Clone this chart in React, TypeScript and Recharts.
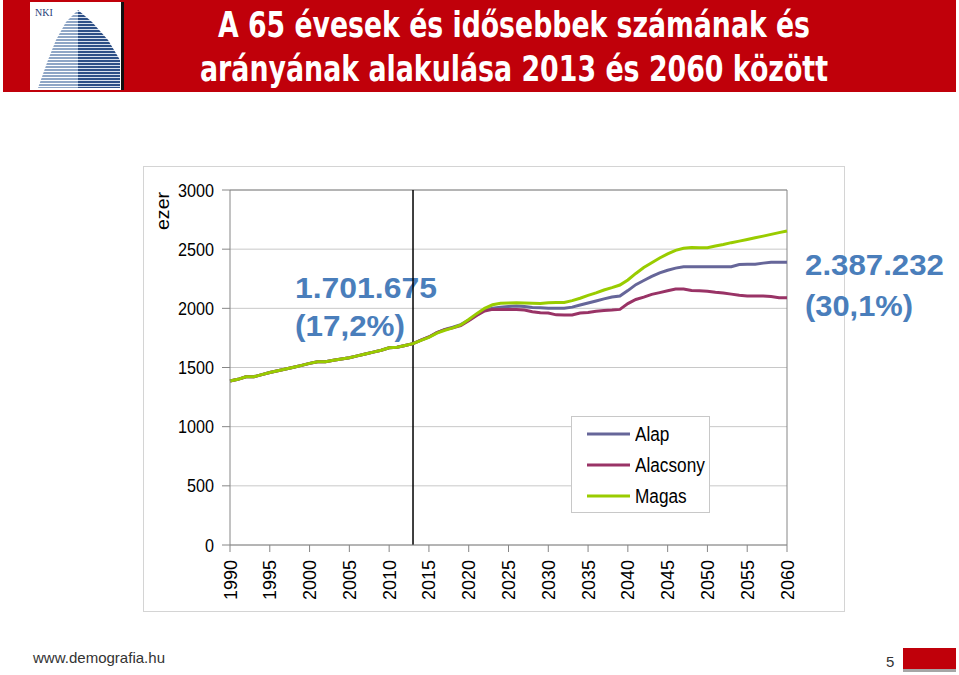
import React from 'react';
import { LineChart, Line, XAxis, YAxis, CartesianGrid, ReferenceLine, Legend } from 'recharts';

const years = [
  1990, 1991, 1992, 1993, 1994, 1995, 1996, 1997, 1998, 1999,
  2000, 2001, 2002, 2003, 2004, 2005, 2006, 2007, 2008, 2009,
  2010, 2011, 2012, 2013, 2014, 2015, 2016, 2017, 2018, 2019,
  2020, 2021, 2022, 2023, 2024, 2025, 2026, 2027, 2028, 2029,
  2030, 2031, 2032, 2033, 2034, 2035, 2036, 2037, 2038, 2039,
  2040, 2041, 2042, 2043, 2044, 2045, 2046, 2047, 2048, 2049,
  2050, 2051, 2052, 2053, 2054, 2055, 2056, 2057, 2058, 2059, 2060,
];

// 1990-2013 observed (same for every variant)
const historical = [
  1386, 1400, 1422, 1422, 1440, 1458, 1472, 1487, 1502, 1518,
  1535, 1549, 1549, 1562, 1572, 1583, 1598, 1614, 1630, 1646,
  1666, 1671, 1686, 1702,
];

// 2014-2060 projections
const alap = [
  1732, 1758, 1795, 1822, 1840, 1862,
  1900, 1945, 1985, 2000, 2010, 2015, 2020, 2015, 2008, 2005,
  2000, 2000, 2000, 2010, 2028, 2045, 2062, 2080, 2095, 2104,
  2150, 2200, 2235, 2270, 2300, 2322, 2340, 2352, 2352, 2352,
  2352, 2352, 2352, 2352, 2370, 2372, 2372, 2382, 2390, 2390, 2390,
];
const alacsony = [
  1732, 1758, 1795, 1820, 1835, 1855,
  1895, 1940, 1978, 1991, 1991, 1991, 1991, 1985, 1972, 1963,
  1960, 1945, 1944, 1944, 1960, 1965, 1975, 1982, 1985, 1991,
  2040, 2075, 2095, 2118, 2133, 2148, 2163, 2163, 2150, 2148,
  2145, 2135, 2130, 2120, 2110, 2104, 2104, 2104, 2100, 2090, 2090,
];
const magas = [
  1730, 1755, 1790, 1815, 1835, 1860,
  1905, 1955, 2000, 2030, 2042, 2045, 2048, 2045, 2042, 2040,
  2048, 2050, 2050, 2065, 2085, 2110, 2130, 2155, 2175, 2197,
  2240, 2295, 2345, 2385, 2425, 2460, 2490, 2508, 2515, 2513,
  2513, 2527, 2540, 2555, 2568, 2582, 2596, 2610, 2625, 2640, 2654,
];

const seriesNames = ['Alap', 'Alacsony', 'Magas'];
const seriesColors = ['#666699', '#993366', '#99CC00'];

const xTicks = [1990, 1995, 2000, 2005, 2010, 2015, 2020, 2025, 2030, 2035, 2040, 2045, 2050, 2055, 2060];
const yTicks = [0, 500, 1000, 1500, 2000, 2500, 3000];

const titleLines = ['A 65 évesek és idősebbek számának és', 'arányának alakulása 2013 és 2060 között'];
const startLabel = ['1.701.675', '(17,2%)'];
const endLabel = ['2.387.232', '(30,1%)'];

const nh = historical.length;
const data = years.map((year, i) => ({
  year,
  Alap: i < nh ? historical[i] : alap[i - nh],
  Alacsony: i < nh ? historical[i] : alacsony[i - nh],
  Magas: i < nh ? historical[i] : magas[i - nh],
}));

const COND = '"DejaVu Sans Condensed", "Liberation Sans", Arial, sans-serif';
const SANS = '"Liberation Sans", Arial, sans-serif';

const YTick = (props: any) => {
  const { x, y, payload } = props;
  const s = String(payload.value);
  return (
    <text x={x} y={y} textAnchor="end" dominantBaseline="central" fontFamily={SANS} fontSize={19} fill="#000"
      textLength={s.length * 9} lengthAdjust="spacingAndGlyphs">
      {s}
    </text>
  );
};

const XTick = (props: any) => {
  const { x, y, payload } = props;
  const s = String(payload.value);
  return (
    <text
      x={x}
      y={y}
      transform={`rotate(-90 ${x} ${y})`}
      textAnchor="end"
      dominantBaseline="central"
      fontFamily={SANS}
      fontSize={19}
      fill="#000"
      textLength={s.length * 10}
      lengthAdjust="spacingAndGlyphs"
    >
      {s}
    </text>
  );
};

const LegendBox = (props: any) => {
  const payload = [...(props.payload || [])].sort(
    (a: any, b: any) => seriesNames.indexOf(a.value) - seriesNames.indexOf(b.value)
  );
  return (
    <div
      style={{
        width: 139,
        height: 97,
        border: '1px solid #c8c8c8',
        background: '#fff',
        boxSizing: 'border-box',
        paddingTop: 1,
      }}
    >
      {payload.map((p: any) => (
        <div key={p.value} style={{ display: 'flex', alignItems: 'center', height: 31 }}>
          <svg width={63} height={10} style={{ display: 'block', flex: 'none' }}>
            <line x1={15} y1={5} x2={58} y2={5} stroke={p.color} strokeWidth={3} />
          </svg>
          <span
            style={{
              fontFamily: SANS,
              fontSize: 20,
              color: '#000',
              lineHeight: '20px',
              display: 'inline-block',
              transform: 'scaleX(0.86)',
              transformOrigin: 'left center',
              whiteSpace: 'nowrap',
            }}
          >
            {p.value}
          </span>
        </div>
      ))}
    </div>
  );
};

export default function App() {
  return (
    <div style={{ position: 'absolute', left: 0, top: 0, width: 959, height: 675, background: '#fff', overflow: 'hidden' }}>
      {/* chart frame */}
      <div
        style={{
          position: 'absolute',
          left: 143,
          top: 166,
          width: 702,
          height: 446,
          border: '1px solid #d4d4d4',
          boxSizing: 'border-box',
        }}
      />
      <svg width={959} height={675} style={{ position: 'absolute', left: 0, top: 0 }}>
        <defs>
          <pattern id="stripesL" width="4" height="3" patternUnits="userSpaceOnUse">
            <rect width="4" height="3" fill="#ffffff" />
            <rect width="4" height="2" fill="#8fa6c6" />
          </pattern>
          <pattern id="stripesR" width="4" height="3" patternUnits="userSpaceOnUse">
            <rect width="4" height="3" fill="#d8e0ec" />
            <rect width="4" height="2" fill="#2d4f86" />
          </pattern>
        </defs>
        {/* header banner */}
        <rect x={3} y={0} width={953} height={92} fill="#C0000A" />
        <rect x={30} y={2} width={92} height={88} fill="#ffffff" />
        <polygon points="78,10 78,88 38,88 48,60 56,40 66,22" fill="url(#stripesL)" />
        <polygon points="78,10 78,88 120,88 120,60 108,40 92,22" fill="url(#stripesR)" />
        <rect x={121} y={2} width={3} height={88} fill="#111" />
        <text x={35} y={16} fontFamily="'Liberation Serif', serif" fontSize={10} fill="#1f3d7a">NKI</text>
        <text x={514} y={37} textAnchor="middle" fontFamily={COND} fontWeight="bold" fontSize={35} fill="#fff"
          textLength={592} lengthAdjust="spacingAndGlyphs">{titleLines[0]}</text>
        <text x={514} y={81} textAnchor="middle" fontFamily={COND} fontWeight="bold" fontSize={35} fill="#fff"
          textLength={628} lengthAdjust="spacingAndGlyphs">{titleLines[1]}</text>

        {/* axis title */}
        <text x={169} y={211} transform="rotate(-90 169 211)" textAnchor="middle" fontFamily={SANS} fontSize={19} fill="#000"
          textLength={38} lengthAdjust="spacingAndGlyphs">ezer</text>

        {/* annotations */}
        <text x={295} y={298} fontFamily={SANS} fontWeight="bold" fontSize={30} fill="#4A7EBB"
          textLength={142} lengthAdjust="spacingAndGlyphs">{startLabel[0]}</text>
        <text x={295} y={336} fontFamily={SANS} fontWeight="bold" fontSize={30} fill="#4A7EBB"
          textLength={110} lengthAdjust="spacingAndGlyphs">{startLabel[1]}</text>
        <text x={805} y={275} fontFamily={SANS} fontWeight="bold" fontSize={30} fill="#4A7EBB"
          textLength={139} lengthAdjust="spacingAndGlyphs">{endLabel[0]}</text>
        <text x={805} y={316} fontFamily={SANS} fontWeight="bold" fontSize={30} fill="#4A7EBB"
          textLength={108} lengthAdjust="spacingAndGlyphs">{endLabel[1]}</text>

        {/* footer */}
        <text x={33} y={663} fontFamily={SANS} fontSize={15} fill="#333" textLength={132} lengthAdjust="spacingAndGlyphs">www.demografia.hu</text>
        <text x={886} y={667} fontFamily={SANS} fontSize={15} fill="#333">5</text>
        <rect x={903} y={648} width={53} height={21} fill="#C0000A" />
        <rect x={903} y={669} width={53} height={3} fill="#a6a6a6" />
      </svg>

      <div style={{ position: 'absolute', left: 0, top: 0 }}>
        <LineChart width={959} height={675} data={data} margin={{ top: 190, right: 172, left: 170, bottom: 70 }}>
          <CartesianGrid vertical={false} stroke="#c8c8c8" strokeWidth={1} />
          <XAxis
            dataKey="year"
            type="number"
            domain={[1990, 2060]}
            ticks={xTicks}
            interval={0}
            height={60}
            tickSize={7}
            tickMargin={8}
            axisLine={{ stroke: '#868686' }}
            tickLine={{ stroke: '#868686' }}
            tick={<XTick />}
          />
          <YAxis
            type="number"
            domain={[0, 3000]}
            ticks={yTicks}
            interval={0}
            width={60}
            tickSize={8}
            tickMargin={8}
            axisLine={{ stroke: '#868686' }}
            tickLine={{ stroke: '#868686' }}
            tick={<YTick />}
          />
          <ReferenceLine y={3000} stroke="#868686" strokeWidth={1} />
          <ReferenceLine x={2060} stroke="#868686" strokeWidth={1} />
          <ReferenceLine x={2013} stroke="#000" strokeWidth={1.5} />
          <Legend
            layout="vertical"
            align="center"
            verticalAlign="middle"
            itemSorter={null as any}
            content={<LegendBox />}
            wrapperStyle={{ position: 'absolute', left: 571, top: 416, width: 139, height: 97 }}
          />
          {seriesNames.map((name, i) => (
            <Line
              key={name}
              type="linear"
              dataKey={name}
              name={name}
              stroke={seriesColors[i]}
              strokeWidth={3}
              dot={false}
              activeDot={false}
              isAnimationActive={false}
            />
          ))}
        </LineChart>
      </div>
    </div>
  );
}
